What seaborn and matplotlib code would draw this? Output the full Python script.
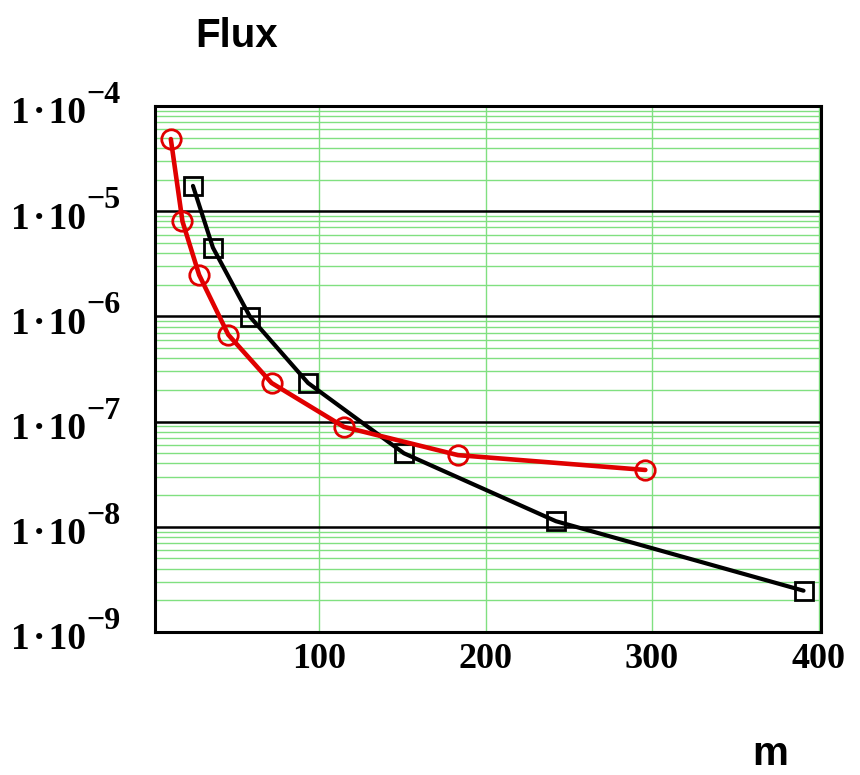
import numpy as np
import pandas as pd
import matplotlib
matplotlib.use("Agg")
import matplotlib.pyplot as plt
import matplotlib.transforms as mtransforms
from matplotlib.ticker import LogLocator, NullFormatter
import seaborn as sns

# ---- data ----
red_m = [11.0, 18.0, 28.0, 45.5, 71.5, 115.0, 183.5, 296.0]
red_flux = [4.85e-5, 8.0e-6, 2.48e-6, 6.7e-7, 2.33e-7, 8.9e-8, 4.8e-8, 3.47e-8]
black_m = [24.3, 36.3, 58.6, 93.4, 151.0, 242.3, 391.0]
black_flux = [1.74e-5, 4.5e-6, 9.9e-7, 2.33e-7, 5.0e-8, 1.13e-8, 2.47e-9]
x_ticks = [100, 200, 300, 400]
x_tick_labels = ["100", "200", "300", "400"]
y_exponents = [-9, -8, -7, -6, -5, -4]
y_tick_base = "1\u200a\u00b7\u200a10"
title_text = "Flux"
xlabel_text = "m"

sns.set_style("white")
plt.rcParams["font.family"] = ["Liberation Serif", "DejaVu Serif"]
plt.rcParams["text.color"] = "black"
plt.rcParams["xtick.color"] = "black"
plt.rcParams["ytick.color"] = "black"
plt.rcParams["xtick.labelcolor"] = "black"
plt.rcParams["ytick.labelcolor"] = "black"

SERIF = ["Liberation Serif", "DejaVu Serif"]
SANS = ["Liberation Sans", "DejaVu Sans"]

W, H = 860, 775
fig = plt.figure(figsize=(W / 100, H / 100), dpi=100)
ax = fig.add_axes([155 / W, 1 - 632 / H, (821 - 155) / W, (632 - 106) / H])

red_df = pd.DataFrame({"m": red_m, "flux": red_flux})
black_df = pd.DataFrame({"m": black_m, "flux": black_flux})

ax.set_yscale("log")
ax.set_xlim(1.5, 401.5)
ax.set_ylim(1e-9, 1e-4)

# grid
ax.yaxis.set_minor_locator(LogLocator(base=10, subs=np.arange(2, 10)))
ax.yaxis.set_minor_formatter(NullFormatter())
ax.grid(which="minor", axis="y", color="#80e080", linewidth=1.0)
ax.grid(which="major", axis="y", color="black", linewidth=1.8)
ax.grid(which="major", axis="x", color="#80e080", linewidth=1.0)
ax.set_axisbelow(True)

sns.lineplot(data=black_df, x="m", y="flux", ax=ax, color="black", linewidth=3.0,
             marker="s", markersize=13, markerfacecolor="none",
             markeredgecolor="black", markeredgewidth=2.0, zorder=3)
sns.lineplot(data=red_df, x="m", y="flux", ax=ax, color="#e00000", linewidth=3.3,
             marker="o", markersize=14, markerfacecolor="none",
             markeredgecolor="#e00000", markeredgewidth=2.0, zorder=4)

ax.set_xticks(x_ticks)
ax.set_xticklabels(x_tick_labels, fontsize=26, fontweight="bold", family=SERIF,
                   color="black")
ax.set_yticks([10.0 ** e for e in y_exponents])
ax.set_yticklabels([y_tick_base] * len(y_exponents), fontsize=27, fontweight="bold",
                   family=SERIF, color="black")
ax.tick_params(axis="both", which="both", length=0)
ax.tick_params(axis="y", pad=50)
ax.tick_params(axis="x", pad=8)
down = mtransforms.ScaledTranslation(0, -4 / 100, fig.dpi_scale_trans)
for lab in ax.get_yticklabels():
    lab.set_transform(lab.get_transform() + down)

# superscript exponents
ytrans = ax.get_yaxis_transform()
sup_trans = mtransforms.offset_copy(ytrans, fig=fig, x=0, y=3, units="dots")
x_sup = (86 - 155) / (821 - 155)
for e in y_exponents:
    ax.text(x_sup, 10.0 ** e, "\u2212" + str(-e), transform=sup_trans,
            ha="left", va="baseline", fontsize=23, fontweight="bold",
            family=SERIF, color="black", clip_on=False)

for s in ax.spines.values():
    s.set_visible(True)
    s.set_color("black")
    s.set_linewidth(2.2)

ax.set_xlabel("")
ax.set_ylabel("")

fig.text(195 / W, 1 - 47 / H, title_text, ha="left", va="baseline",
         fontsize=29, fontweight="bold", family=SANS, color="black")
fig.text(752 / W, 1 - 765 / H, xlabel_text, ha="left", va="baseline",
         fontsize=29, fontweight="bold", family=SANS, color="black")

fig.savefig("out.png", dpi=100)
